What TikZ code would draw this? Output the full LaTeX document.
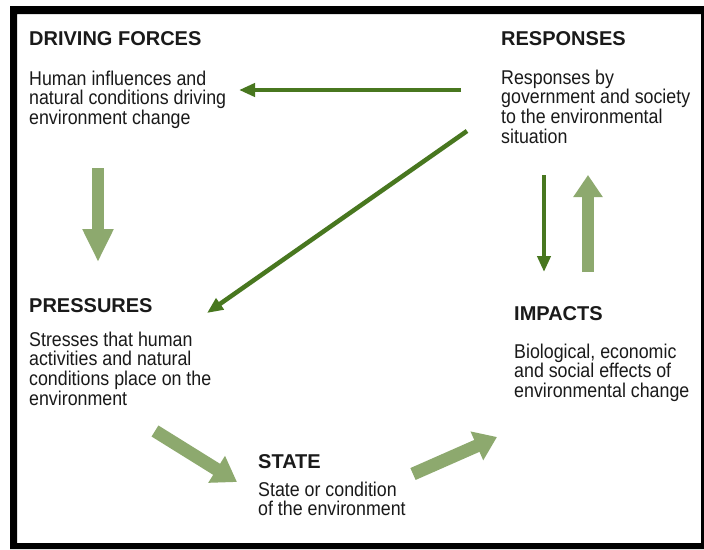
\documentclass[tikz,border=0pt]{standalone}
\usepackage{fontspec}
\usepackage{graphicx}
\setmainfont{Liberation Sans}
\usetikzlibrary{arrows.meta}
\definecolor{dkgreen}{HTML}{48771F}
\definecolor{ltgreen}{HTML}{8DA96E}
\definecolor{txt}{HTML}{1A1A1A}
\newcommand{\bodyblock}[1]{\scalebox{1}[1.12]{\fontsize{17.8}{16.5}\selectfont\begin{tabular}[t]{@{}l@{}}#1\end{tabular}}}
\begin{document}
\begin{tikzpicture}[x=1pt,y=-1pt,
  heading/.style={anchor=base west, inner sep=0, text=txt, font=\fontsize{20}{24}\selectfont\bfseries},
  body/.style={anchor=base west, inner sep=0, text=txt},
  darrow/.style={draw=dkgreen, line width=4.5pt, -{Triangle[length=16pt,width=13pt]}},
  larrow/.style={draw=ltgreen, line width=12pt, -{Triangle[length=22pt,width=28pt]}}]
\useasboundingbox (0,0) rectangle (704,549);
\fill[white] (0,0) rectangle (704,549);
\fill[black, even odd rule] (10,6) rectangle (704,549) (17,14) rectangle (701,543);

% headings and texts
\node[heading] (dfh) at (29,45) {DRIVING FORCES};
\node[body] (dfb) at (29,85) {\bodyblock{Human influences and\\natural conditions driving\\environment change}};
\node[heading] (rsh) at (501,45) {RESPONSES};
\node[body] (rsb) at (501,84) {\bodyblock{Responses by\\government and society\\to the environmental\\situation}};
\node[heading] (prh) at (29,312) {PRESSURES};
\node[body] (prb) at (29,346) {\bodyblock{Stresses that human\\activities and natural\\conditions place on the\\environment}};
\node[heading] (sth) at (258,468) {STATE};
\node[body] (stb) at (258,496) {\bodyblock{State or condition\\of the environment}};
\node[heading] (imh) at (514,320) {IMPACTS};
\node[body] (imb) at (514,358) {\bodyblock{Biological, economic\\and social effects of\\environmental change}};

% connector end points
\coordinate (a1s) at (461,90);  \coordinate (a1e) at (239,90);
\coordinate (a2s) at (467,131); \coordinate (a2e) at (207,313);
\coordinate (a3s) at (544,175); \coordinate (a3e) at (544,272);
\coordinate (a4s) at (588,272); \coordinate (a4e) at (588,175);
\coordinate (a5s) at (98,168);  \coordinate (a5e) at (98,262);
\coordinate (a6s) at (155,431); \coordinate (a6e) at (237,482);
\coordinate (a7s) at (413,474); \coordinate (a7e) at (497,437);

\draw[darrow] (a1s) -- (a1e);
\draw[darrow] (a2s) -- (a2e);
\draw[darrow] (a3s) -- (a3e);
\draw[larrow] (a4s) -- (a4e);
\draw[larrow, -{Triangle[length=33pt,width=29pt]}] (a5s) -- (a5e);
\draw[larrow, line width=13pt, -{Triangle[length=24pt,width=30pt]}] (a6s) -- (a6e);
\draw[larrow, line width=13pt, -{Triangle[length=22pt,width=30pt]}] (a7s) -- (a7e);
\end{tikzpicture}
\end{document}
